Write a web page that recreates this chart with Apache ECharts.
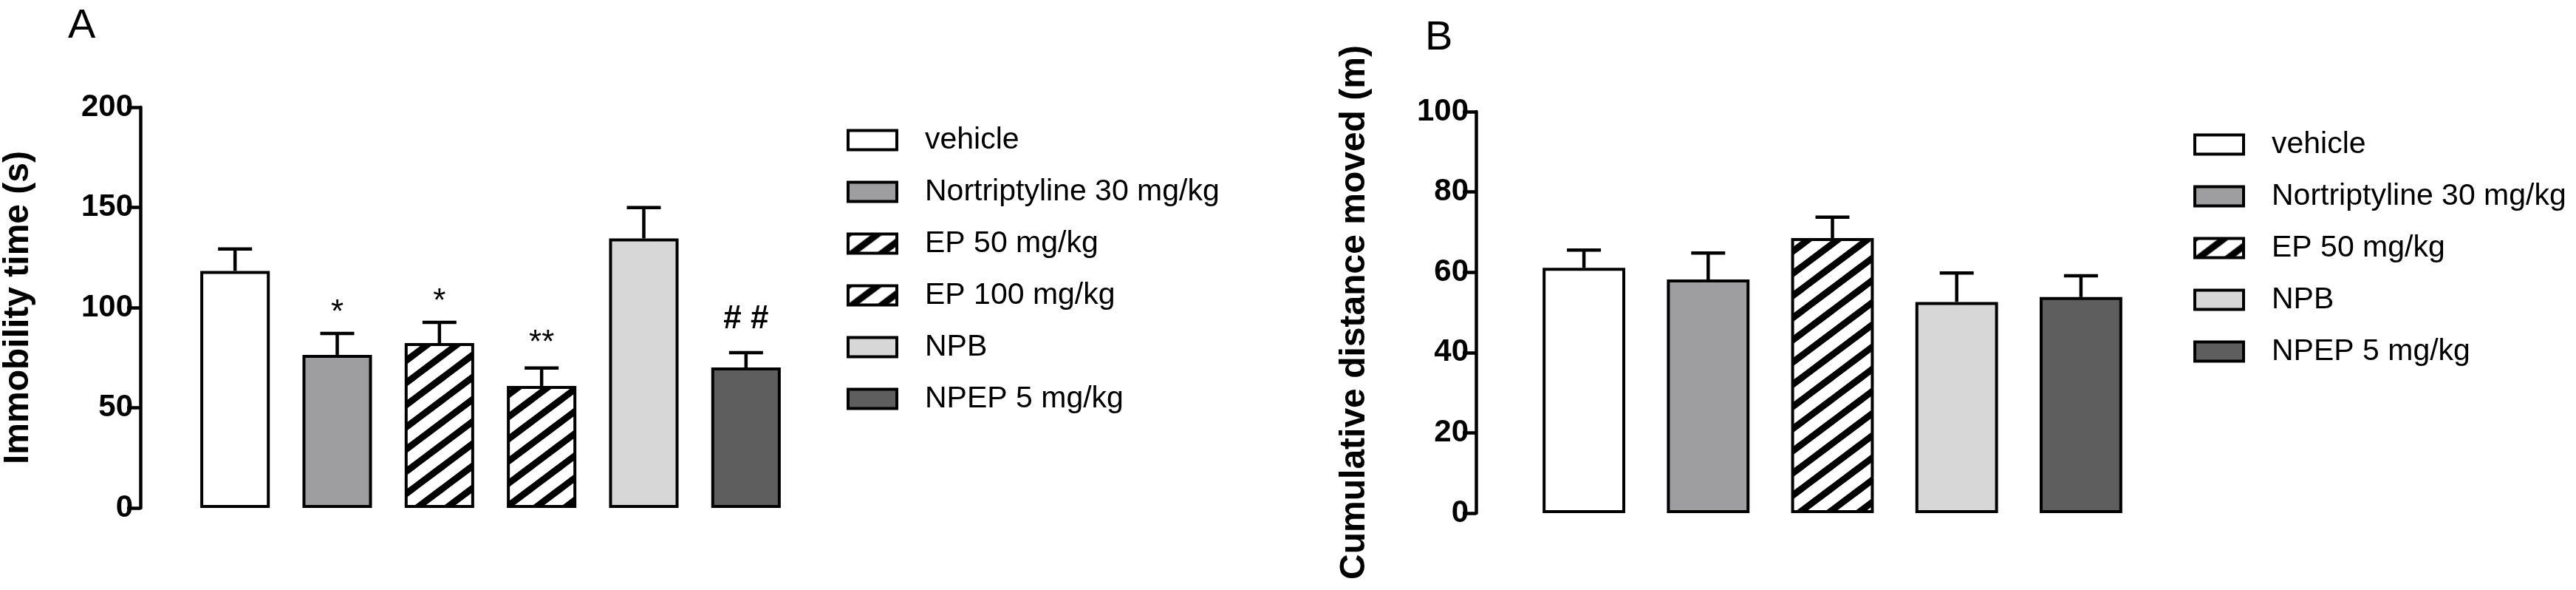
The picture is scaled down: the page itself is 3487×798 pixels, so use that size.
<!DOCTYPE html>
<html>
<head>
<meta charset="utf-8">
<script src="https://cdn.jsdelivr.net/npm/echarts@6/dist/echarts.min.js"></script>
<style>
  html, body { margin: 0; padding: 0; background: #fff; }
  #chart { width: 3487px; height: 798px; }
</style>
</head>
<body>
<div id="chart"></div>
<script>
// panel A: forced swim test
const groupsA = ['vehicle', 'Nortriptyline 30 mg/kg', 'EP 50 mg/kg', 'EP 100 mg/kg', 'NPB', 'NPEP 5 mg/kg'];
const meanA = [118.3, 76.4, 82.3, 60.9, 134.5, 70.1];
const semA = [10.9, 10.7, 10.3, 8.9, 15.4, 7.4];
const marksA = ['', '*', '*', '**', '', '# #'];
const ticksA = [0, 50, 100, 150, 200];

// panel B: open field
const groupsB = ['vehicle', 'Nortriptyline 30 mg/kg', 'EP 50 mg/kg', 'NPB', 'NPEP 5 mg/kg'];
const meanB = [61.1, 58.2, 68.5, 52.6, 53.8];
const semB = [4.4, 6.6, 5.2, 7.2, 5.3];
const ticksB = [0, 20, 40, 60, 80, 100];

const FONT = "'Liberation Sans', Arial, sans-serif";

// diagonal stripes "/" for the EP groups
function hatch() {
  const c = document.createElement('canvas');
  c.width = 40;
  c.height = 30;
  const ctx = c.getContext('2d');
  ctx.fillStyle = '#fff';
  ctx.fillRect(0, 0, 40, 30);
  ctx.strokeStyle = '#000';
  ctx.lineWidth = 9;
  for (let k = -1; k <= 2; k++) {
    ctx.beginPath();
    ctx.moveTo(-4, 30 * (k + 1) + 3);
    ctx.lineTo(44, 30 * k - 3);
    ctx.stroke();
  }
  return { image: c, repeat: 'repeat' };
}
const stripes = hatch();

const fills = {
  'vehicle': '#ffffff',
  'Nortriptyline 30 mg/kg': '#9e9ea1',
  'EP 50 mg/kg': stripes,
  'EP 100 mg/kg': stripes,
  'NPB': '#d7d7d7',
  'NPEP 5 mg/kg': '#5e5e5e'
};

function barSeries(groups, means, axis, width) {
  return groups.map((g, i) => ({
    name: g,
    type: 'bar',
    xAxisIndex: axis,
    yAxisIndex: axis,
    barWidth: width,
    barGap: '-100%',
    data: means.map((v, j) => (j === i ? v : null)),
    itemStyle: { color: fills[g], borderColor: '#000', borderWidth: 4 },
    emphasis: { disabled: true },
    z: 2
  }));
}

function errorSeries(means, sems, marks, axis) {
  return {
    type: 'custom',
    xAxisIndex: axis,
    yAxisIndex: axis,
    z: 5,
    data: means.map((v, i) => [i, v, sems[i]]),
    renderItem: (params, api) => {
      const i = api.value(0);
      const top = api.coord([i, api.value(1)]);
      const cap = api.coord([i, api.value(1) + api.value(2)]);
      const style = { stroke: '#000', lineWidth: 4.5 };
      const children = [
        { type: 'line', shape: { x1: top[0], y1: top[1], x2: cap[0], y2: cap[1] }, style },
        { type: 'line', shape: { x1: cap[0] - 23, y1: cap[1], x2: cap[0] + 23, y2: cap[1] }, style }
      ];
      const mark = marks && marks[i];
      if (mark) {
        const isHash = mark.indexOf('#') >= 0;
        const lift = isHash ? 45 : (mark.length > 1 ? 33 : 27);
        children.push({
          type: 'text',
          style: {
            text: mark,
            x: cap[0],
            y: cap[1] - lift,
            align: 'center',
            verticalAlign: 'middle',
            fill: '#000',
            font: (isHash ? 'bold ' : '') + '44px ' + FONT
          }
        });
      }
      return { type: 'group', children };
    }
  };
}

function yAxis(grid, ticks, name, offset, gap) {
  return {
    type: 'value',
    gridIndex: grid,
    min: ticks[0],
    max: ticks[ticks.length - 1],
    interval: ticks[1] - ticks[0],
    offset: offset,
    name: name,
    nameLocation: 'middle',
    nameRotate: 90,
    nameGap: gap,
    nameTextStyle: { fontFamily: FONT, fontSize: 48, fontWeight: 'bold', color: '#000' },
    axisLine: { show: true, lineStyle: { color: '#000', width: 4.5 } },
    axisTick: { show: true, length: 18, lineStyle: { color: '#000', width: 4.5 } },
    axisLabel: { fontFamily: FONT, fontSize: 42, fontWeight: 'bold', color: '#000', margin: 10 },
    splitLine: { show: false }
  };
}

function xAxis(grid, groups) {
  return {
    type: 'category',
    gridIndex: grid,
    data: groups,
    axisLine: { show: false },
    axisTick: { show: false },
    axisLabel: { show: false }
  };
}

function legend(groups, left, top) {
  return {
    orient: 'vertical',
    left: left,
    top: top,
    data: groups,
    icon: 'rect',
    itemWidth: 66,
    itemHeight: 26,
    itemGap: 29,
    selectedMode: false,
    itemStyle: { borderColor: '#000', borderWidth: 4 },
    textStyle: { fontFamily: FONT, fontSize: 41, color: '#000', lineHeight: 40, padding: [0, 0, 0, 33] }
  };
}

const myChart = echarts.init(document.getElementById('chart'), null, { renderer: 'canvas' });

const option = {
  animation: false,
  backgroundColor: '#fff',
  title: [
    { text: 'A', left: 92, top: 8, padding: 0, textStyle: { fontFamily: FONT, fontSize: 56, fontWeight: 'normal', color: '#000' } },
    { text: 'B', left: 1929, top: 24, padding: 0, textStyle: { fontFamily: FONT, fontSize: 56, fontWeight: 'normal', color: '#000' } }
  ],
  grid: [
    { left: 238, width: 841, top: 145, height: 542 },
    { left: 2060, width: 841, top: 151, height: 543 }
  ],
  xAxis: [xAxis(0, groupsA), xAxis(1, groupsB)],
  yAxis: [
    yAxis(0, ticksA, 'Immobility time (s)', 59, 141),
    yAxis(1, ticksB, 'Cumulative distance moved (m)', 62, 140)
  ],
  legend: [legend(groupsA, 1141, 164), legend(groupsB, 2964, 170)],
  series: [
    ...barSeries(groupsA, meanA, 0, '68%'),
    ...barSeries(groupsB, meanB, 1, '66.5%'),
    errorSeries(meanA, semA, marksA, 0),
    errorSeries(meanB, semB, null, 1)
  ]
};

myChart.setOption(option);
window.addEventListener('resize', () => myChart.resize());
</script>
</body>
</html>
